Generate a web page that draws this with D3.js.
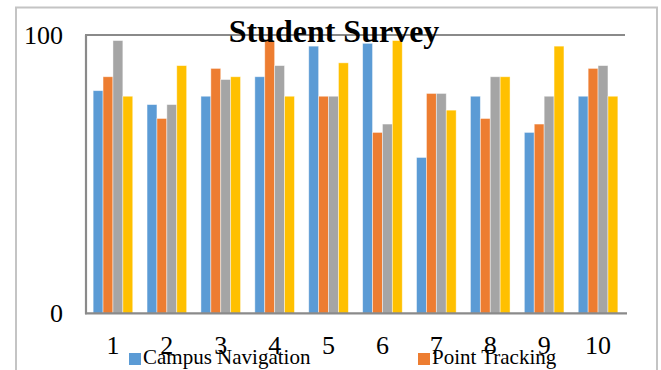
<!DOCTYPE html>
<html>
<head>
<meta charset="utf-8">
<script src="https://cdn.jsdelivr.net/npm/d3@7/dist/d3.min.js"></script>
<style>
  html, body { margin: 0; padding: 0; background: #fff; }
  svg { display: block; }
  text { font-family: "Liberation Serif", "Times New Roman", serif; fill: #000; }
</style>
</head>
<body>
<svg id="chart" width="661" height="370"></svg>
<script>
// Survey responses, one value per question for each of four series
const categories = ["1", "2", "3", "4", "5", "6", "7", "8", "9", "10"];
const seriesA = [80, 75, 78, 85, 96, 97, 56, 78, 65, 78];
const seriesB = [85, 70, 88, 98, 78, 65, 79, 70, 68, 88];
const seriesC = [98, 75, 84, 89, 78, 68, 79, 85, 78, 89];
const seriesD = [78, 89, 85, 78, 90, 98, 73, 85, 96, 78];
const legendNames = ["Campus Navigation", "Point Tracking"];
const yTicks = [0, 100];

const series = [seriesA, seriesB, seriesC, seriesD];
const colors = ["#5B9BD5", "#ED7D31", "#A5A5A5", "#FFC000"];

const svg = d3.select("#chart");
const plot = { left: 86, right: 625, top: 35, bottom: 313.3 };

// outer chart frame
svg.append("rect")
  .attr("x", 16).attr("y", 7.5)
  .attr("width", 641).attr("height", 400)
  .attr("fill", "none")
  .attr("stroke", "#c4c4c4")
  .attr("stroke-width", 2);

const x = d3.scaleBand()
  .domain(categories)
  .range([plot.left, plot.right])
  .paddingInner(0.265)
  .paddingOuter(0.1325);

const xInner = d3.scaleBand()
  .domain(d3.range(series.length))
  .range([0, x.bandwidth()]);

const y = d3.scaleLinear().domain([0, 100]).range([plot.bottom, plot.top]);

// bars
const groups = svg.append("g").selectAll("g")
  .data(categories)
  .join("g")
  .attr("transform", d => `translate(${x(d)},0)`);

groups.selectAll("rect")
  .data((d, i) => series.map((s, k) => ({ k, v: s[i] })))
  .join("rect")
  .attr("x", d => xInner(d.k))
  .attr("y", d => y(d.v))
  .attr("width", xInner.bandwidth())
  .attr("height", d => y(0) - y(d.v))
  .attr("fill", d => colors[d.k])
  .attr("stroke", "#ffffff")
  .attr("stroke-opacity", 0.55)
  .attr("stroke-width", 0.8);

// plot frame: left, top, bottom
const frame = svg.append("g").attr("stroke", "#8a8a8a").attr("stroke-width", 2.2).attr("fill", "none");
frame.append("line").attr("x1", plot.left).attr("x2", plot.left).attr("y1", plot.top).attr("y2", plot.bottom + 1);
frame.append("line").attr("x1", plot.left - 1).attr("x2", plot.right).attr("y1", plot.top).attr("y2", plot.top);
frame.append("line").attr("x1", plot.left - 1).attr("x2", plot.right + 2).attr("y1", plot.bottom).attr("y2", plot.bottom);

// y axis labels
const yAxis = svg.append("g")
  .attr("transform", `translate(${plot.left - 8},0)`)
  .call(d3.axisLeft(y).tickValues(yTicks).tickSize(0).tickPadding(15));
yAxis.select(".domain").remove();
yAxis.selectAll("text")
  .style("font-family", '"Liberation Serif", "Times New Roman", serif')
  .style("font-size", "26px")
  .attr("fill", "#000");

// x axis labels
const xAxis = svg.append("g")
  .attr("transform", `translate(0,${plot.bottom})`)
  .call(d3.axisBottom(x).tickSize(0).tickPadding(22));
xAxis.select(".domain").remove();
xAxis.selectAll("text")
  .style("font-family", '"Liberation Serif", "Times New Roman", serif')
  .style("font-size", "26px")
  .attr("fill", "#000");

// title
svg.append("text")
  .attr("x", 334)
  .attr("y", 41.7)
  .attr("text-anchor", "middle")
  .style("font-size", "32px")
  .style("font-weight", "bold")
  .text("Student Survey");

// legend
const legendX = [129, 418];
const legend = svg.append("g").selectAll("g")
  .data(legendNames)
  .join("g")
  .attr("transform", (d, i) => `translate(${legendX[i]},353)`);
legend.append("rect")
  .attr("width", 12).attr("height", 12)
  .attr("fill", (d, i) => colors[i]);
legend.append("text")
  .attr("x", 14)
  .attr("y", 11)
  .style("font-size", "21px")
  .text(d => d);
</script>
</body>
</html>
